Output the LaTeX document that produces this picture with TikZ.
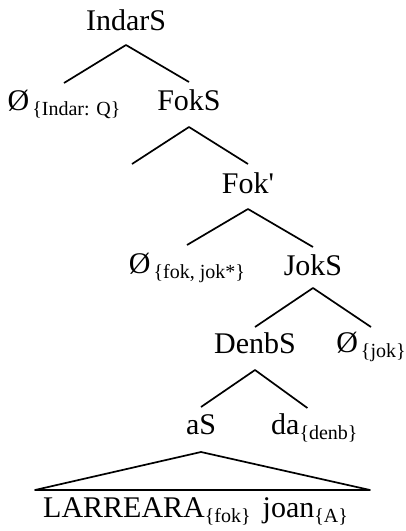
\documentclass[tikz,border=0pt]{standalone}
\usepackage{fontspec}
\setmainfont{Liberation Serif}[Ligatures=TeXOff]
% feature subscript in braces, set smaller and lowered
\newcommand\lowsub[1]{\raisebox{-5pt}{\fontsize{20}{24}\selectfont\{#1\}}}
\begin{document}
\begin{tikzpicture}[x=1pt,y=-1pt,
  lbl/.style={anchor=base,inner sep=0pt,font=\fontsize{30}{36}\selectfont},
  branch/.style={line width=1.7pt,line join=round},
]
\useasboundingbox (0,0) rectangle (405,531);

% labels
\node[lbl] (indar) at (126,30) {IndarS};
\node[lbl] (nullQ) at (64,110) {Ø\kern3pt\lowsub{Indar: Q}};
\node[lbl] (foks) at (189,110) {FokS};
\node[lbl] (fokbar) at (248,193) {Fok'};
\node[lbl] (nullFJ) at (187,273) {Ø\kern3pt\lowsub{fok, jok*}};
\node[lbl] (joks) at (313,275) {JokS};
\node[lbl] (denbs) at (255,353) {DenbS};
\node[lbl] (nullJ) at (371,352) {Ø\kern3pt\lowsub{jok}};
\node[lbl] (as) at (201,434) {aS};
\node[lbl,anchor=base west] (da) at (271,434) {da\lowsub{denb}};
\node[lbl,anchor=base west] (words) at (43,517) {LARREARA\lowsub{fok}\hspace{12pt}joan\lowsub{A}};

% branches
\draw[branch] ([yshift=27pt]nullQ.base) -- ([yshift=-15pt]indar.base) -- ([yshift=28pt]foks.base);
\draw[branch] ([xshift=-57pt,yshift=-54pt]foks.base) coordinate (stub)
  -- ([yshift=-17pt]foks.base) -- ([yshift=29pt]fokbar.base);
\draw[branch] ([yshift=28pt]nullFJ.base) -- ([yshift=-16pt]fokbar.base) -- ([yshift=28pt]joks.base);
\draw[branch] ([yshift=26pt]denbs.base) -- ([yshift=-13pt]joks.base) -- ([yshift=25pt]nullJ.base);
\draw[branch] ([yshift=27pt]as.base) -- ([yshift=-17pt]denbs.base) -- ([xshift=-7pt,yshift=26pt]da.base);

% roof over the spelled-out phrase
\coordinate (roofL) at (35,490);
\coordinate (roofR) at (370,490);
\draw[branch] (roofL) -- ([yshift=-18pt]as.base) -- (roofR) -- cycle;
\end{tikzpicture}
\end{document}
